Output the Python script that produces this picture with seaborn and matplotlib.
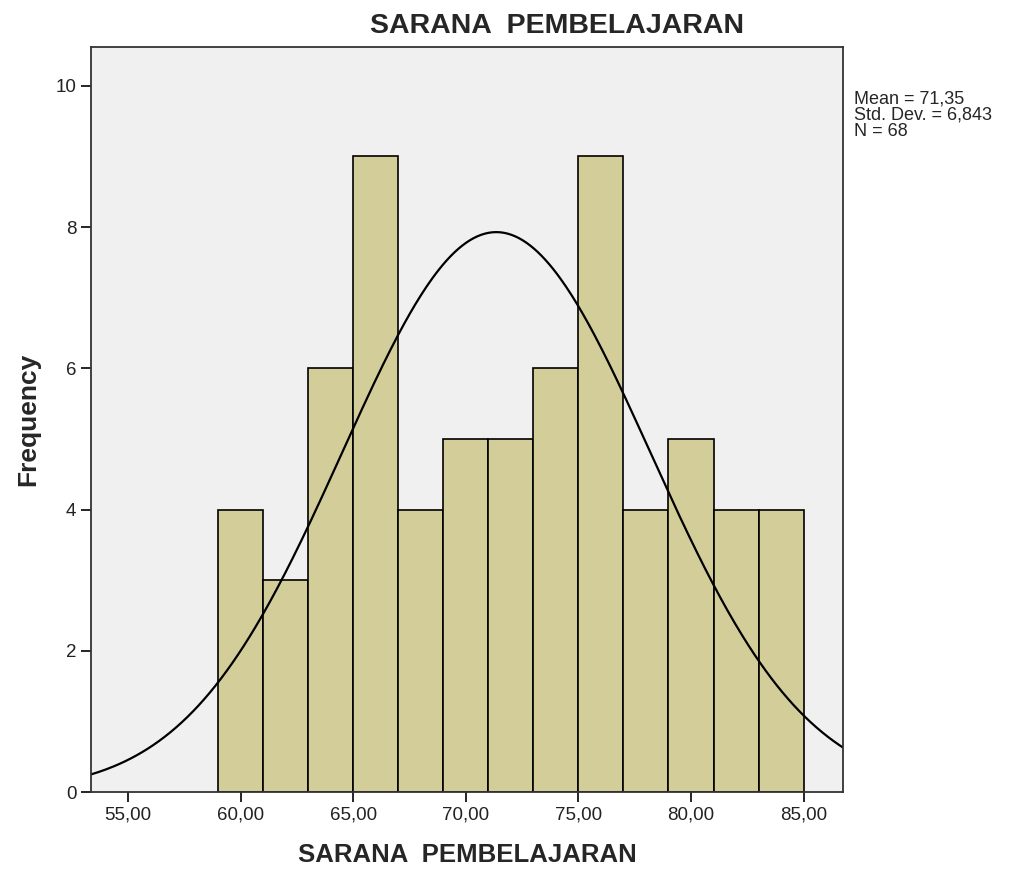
import numpy as np
import pandas as pd
import matplotlib.pyplot as plt
import seaborn as sns
from matplotlib.ticker import FuncFormatter

# bin edges and counts
bin_edges = [59, 61, 63, 65, 67, 69, 71, 73, 75, 77, 79, 81, 83, 85]
counts = [4, 3, 6, 9, 4, 5, 5, 6, 9, 4, 5, 4, 4]
mean_val = 71.35
std_val = 6.843
n_val = 68

bin_mids = [(a + b) / 2 for a, b in zip(bin_edges[:-1], bin_edges[1:])]
df = pd.DataFrame({"x": bin_mids, "count": counts})

sns.set_style("white")
plt.rcParams['font.family'] = ['Liberation Sans', 'DejaVu Sans']

fig = plt.figure(figsize=(10.16, 8.77), dpi=100)
ax = fig.add_axes([0.0896, 0.0969, 0.7401, 0.8495])
ax.set_facecolor("#f0f0f0")

sns.histplot(data=df, x="x", weights="count", bins=bin_edges, ax=ax,
             color="#d3ce99", edgecolor="black", linewidth=1.2, alpha=1)

# normal curve scaled to counts
xs = np.linspace(53.35, 86.75, 400)
binw = bin_edges[1] - bin_edges[0]
ys = n_val * binw * np.exp(-0.5 * ((xs - mean_val) / std_val) ** 2) / (std_val * np.sqrt(2 * np.pi))
sns.lineplot(x=xs, y=ys, ax=ax, color="black", linewidth=1.6)

ax.set_xlim(53.35, 86.75)
ax.set_ylim(0, 10.55)
ax.set_xticks([55, 60, 65, 70, 75, 80, 85])
ax.set_yticks([0, 2, 4, 6, 8, 10])
ax.xaxis.set_major_formatter(FuncFormatter(lambda v, p: f"{v:.2f}".replace(".", ",")))
ax.tick_params(axis="both", direction="out", length=7, width=1.2, color="black",
               labelsize=13.5, labelcolor="#222222", bottom=True, left=True)
for s in ax.spines.values():
    s.set_color("#333333")
    s.set_linewidth(1.3)

fig.text(0.548, 0.97, "SARANA  PEMBELAJARAN", fontsize=20.5, fontweight="bold",
         ha="center", va="center")
ax.set_xlabel("SARANA  PEMBELAJARAN", fontsize=18.5, fontweight="bold", labelpad=14)
ax.set_ylabel("Frequency", fontsize=19, fontweight="bold", labelpad=11)

mean_txt = f"{mean_val:.2f}".replace(".", ",")
std_txt = f"{std_val:.3f}".replace(".", ",")
fig.text(0.841, 0.897, f"Mean = {mean_txt}\nStd. Dev. = {std_txt}\nN = {n_val}",
         fontsize=13, va="top", ha="left", linespacing=0.95)

fig.savefig("out.png", dpi=100)
